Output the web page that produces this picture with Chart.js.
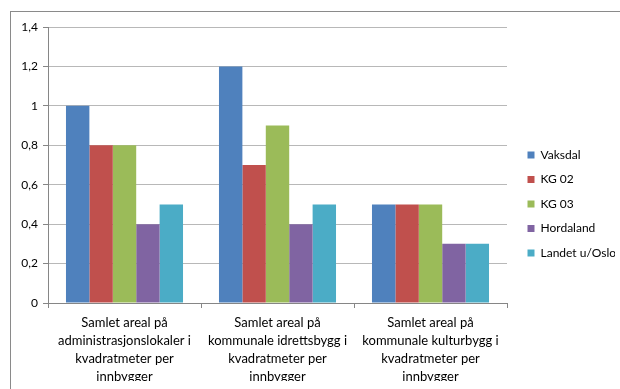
<!DOCTYPE html>
<html>
<head>
<meta charset="utf-8">
<script src="https://cdn.jsdelivr.net/npm/chart.js"></script>
<style>
  body { margin: 0; background: #fff; }
  #wrap { width: 620px; height: 389px; position: relative; }
</style>
</head>
<body>
<div id="wrap"><canvas id="chart" width="620" height="389"></canvas></div>
<script>
// categories (multi-line labels, as in the original)
const categories = [
  ['Samlet areal på', 'administrasjonslokaler i', 'kvadratmeter per', 'innbygger'],
  ['Samlet areal på', 'kommunale idrettsbygg i', 'kvadratmeter per', 'innbygger'],
  ['Samlet areal på', 'kommunale kulturbygg i', 'kvadratmeter per', 'innbygger']
];

const seriesNames = ['Vaksdal', 'KG 02', 'KG 03', 'Hordaland', 'Landet u/Oslo'];
const vaksdal   = [1.0, 1.2, 0.5];
const kg02      = [0.8, 0.7, 0.5];
const kg03      = [0.8, 0.9, 0.5];
const hordaland = [0.4, 0.4, 0.3];
const landet    = [0.5, 0.5, 0.3];

const yMax = 1.4;
const yStep = 0.2;

const colors = ['#4F81BD', '#C0504D', '#9BBB59', '#8064A2', '#4BACC6'];
const values = [vaksdal, kg02, kg03, hordaland, landet];

const fontFam = 'Lato, "Open Sans", sans-serif';

// outer frame like the Excel chart box, and a small gap before the legend
const frame = {
  id: 'frame',
  beforeDraw(chart) {
    const lg = chart.legend;
    lg.left = chart.chartArea.right + 8;
    lg.right = lg.left + lg.width;

    const ctx = chart.ctx;
    ctx.save();
    ctx.fillStyle = '#fff';
    ctx.fillRect(0, 0, chart.width, chart.height);
    ctx.strokeStyle = '#8a8a8a';
    ctx.lineWidth = 1;
    ctx.strokeRect(10.5, 11.5, 700, 500);
    ctx.restore();
  }
};

new Chart(document.getElementById('chart'), {
  type: 'bar',
  data: {
    labels: categories,
    datasets: seriesNames.map((name, i) => ({
      label: name,
      data: values[i],
      backgroundColor: colors[i],
      borderWidth: 0,
      categoryPercentage: 0.765,
      barPercentage: 1
    }))
  },
  options: {
    responsive: false,
    animation: false,
    layout: { padding: { top: 27, right: 13, bottom: 8, left: 0 } },
    plugins: {
      tooltip: { enabled: false },
      legend: {
        position: 'right',
        maxWidth: 100,
        labels: {
          boxWidth: 7,
          boxHeight: 7,
          padding: 12.5,
          color: '#000',
          font: { family: fontFam, size: 12 }
        }
      }
    },
    scales: {
      x: {
        grid: { display: true, drawOnChartArea: false, drawTicks: true, tickLength: 5, offset: true, color: '#868686' },
        border: { color: '#868686' },
        ticks: {
          color: '#000',
          autoSkip: false,
          maxRotation: 0,
          padding: 6,
          font: { family: fontFam, size: 13, lineHeight: 1.39 }
        },
        afterFit(scale) { scale.height = 78; }
      },
      y: {
        min: 0,
        max: yMax,
        grid: { color: '#b8b8b8', tickLength: 5, tickColor: '#868686' },
        border: { color: '#868686' },
        ticks: {
          stepSize: yStep,
          padding: 5,
          color: '#000',
          font: { family: fontFam, size: 12 },
          callback: v => String(Math.round(v * 10) / 10).replace('.', ',')
        },
        afterFit(scale) { scale.width = 48; }
      }
    }
  },
  plugins: [frame]
});
</script>
</body>
</html>
